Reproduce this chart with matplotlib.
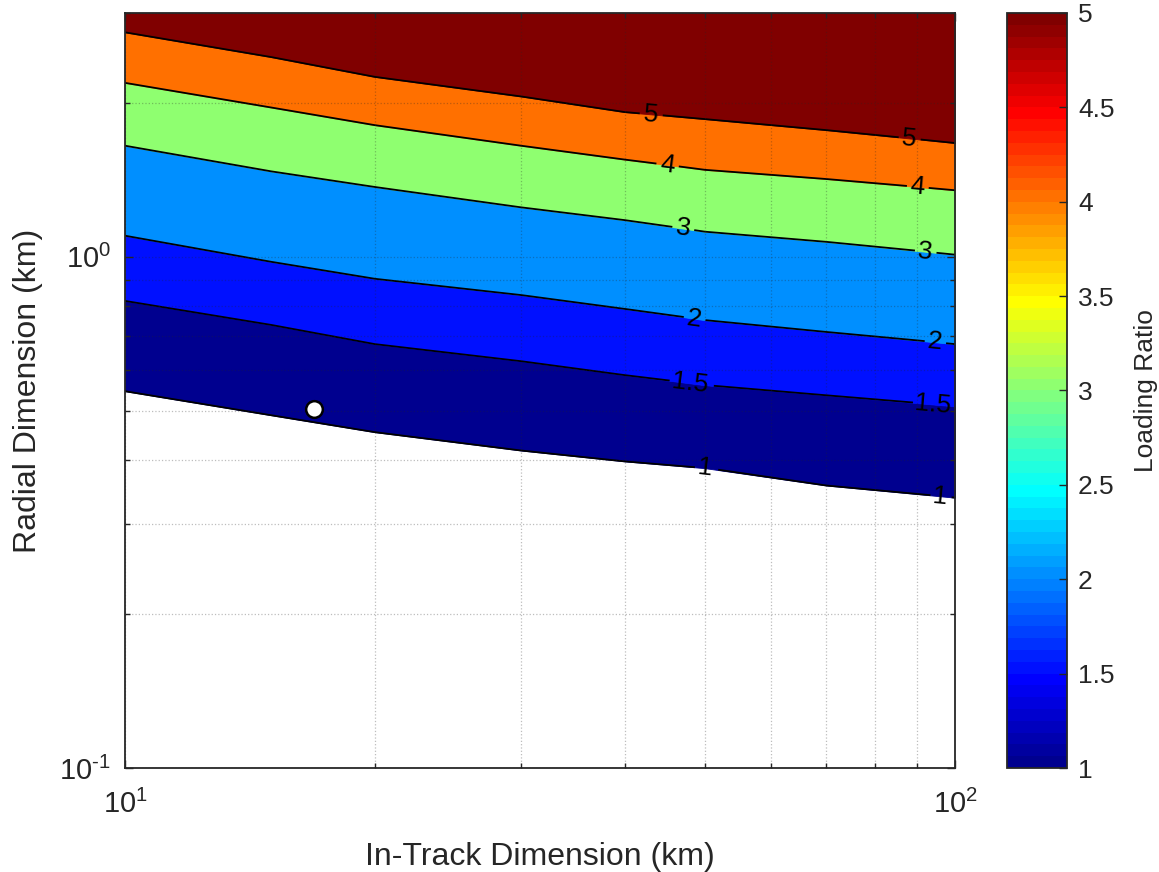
import numpy as np
import matplotlib
matplotlib.use('Agg')
import matplotlib.pyplot as plt
from matplotlib.colors import ListedColormap, Normalize
from matplotlib.contour import ContourSet
from matplotlib.ticker import NullFormatter, FuncFormatter
import matplotlib.cm as cm

plt.rcParams['font.family'] = ['Liberation Sans', 'DejaVu Sans']
plt.rcParams['mathtext.fontset'] = 'custom'
plt.rcParams['mathtext.rm'] = 'Liberation Sans'
plt.rcParams['mathtext.it'] = 'Liberation Sans:italic'
plt.rcParams['mathtext.bf'] = 'Liberation Sans:bold'
plt.rcParams['axes.unicode_minus'] = False

# in-track dimension (km) where the contour lines were read
x_km = [10, 15, 20, 30, 40, 50, 70, 100]
levels = [1, 1.5, 2, 3, 4, 5]
# radial dimension (km) of each loading ratio contour
r_lev1 = [0.546, 0.490, 0.454, 0.418, 0.398, 0.386, 0.357, 0.338]
r_lev15 = [0.820, 0.736, 0.675, 0.625, 0.587, 0.561, 0.536, 0.510]
r_lev2 = [1.10, 0.978, 0.906, 0.842, 0.791, 0.752, 0.713, 0.675]
r_lev3 = [1.65, 1.47, 1.37, 1.25, 1.18, 1.12, 1.07, 1.01]
r_lev4 = [2.19, 1.96, 1.81, 1.65, 1.55, 1.48, 1.42, 1.35]
r_lev5 = [2.75, 2.46, 2.25, 2.06, 1.92, 1.86, 1.77, 1.67]
# where the contour labels sit (in-track km)
label_lev = [5, 5, 4, 4, 3, 3, 2, 2, 1.5, 1.5, 1, 1]
label_x = [43, 88, 45, 90, 47, 92, 48.5, 94.5, 48, 94, 50, 96]
# design point
pt_x = [16.9]
pt_r = [0.505]

cbar_ticks = [1, 1.5, 2, 2.5, 3, 3.5, 4, 4.5, 5]
y_top = 3.0


def matlab_jet(m=64):
    n = int(np.ceil(m / 4))
    u = np.concatenate([np.arange(1, n + 1) / n, np.ones(n - 1), np.arange(n, 0, -1) / n])
    g = int(np.ceil(n / 2)) - (m % 4 == 1) + np.arange(1, len(u) + 1)
    r = g + n
    b = g - n
    J = np.zeros((m, 3))
    J[r[r <= m] - 1, 0] = u[r <= m]
    J[g[g <= m] - 1, 1] = u[g <= m]
    J[b[b >= 1] - 1, 2] = u[b >= 1]
    return ListedColormap(J)


jet = matlab_jet(64)
vmin, vmax = 1, 5


def level_color(v):
    idx = min(int((v - vmin) / (vmax - vmin) * 64), 63)
    return jet(idx)


def pow10_label(v, pos):
    e = int(round(np.log10(v)))
    if e < 0:
        return r'$\mathdefault{10^{\text{-}%d}}$' % (-e)
    return r'$\mathdefault{10^{%d}}$' % e


dark = '#262626'
fig = plt.figure(figsize=(11.59, 8.72), dpi=100)
ax = fig.add_axes([125 / 1159, (872 - 768) / 872, 830 / 1159, 755 / 872])
cax = fig.add_axes([1007 / 1159, (872 - 768) / 872, 60 / 1159, 755 / 872])

ax.set_xscale('log')
ax.set_yscale('log')
ax.set_xlim(10, 100)
ax.set_ylim(0.1, y_top)

lines = [r_lev1, r_lev15, r_lev2, r_lev3, r_lev4, r_lev5]
for k, lev in enumerate(levels):
    lower = lines[k]
    upper = lines[k + 1] if k + 1 < len(lines) else [y_top] * len(x_km)
    c = level_color(lev)
    ax.fill_between(x_km, lower, upper, facecolor=c, edgecolor=c, lw=0.6, zorder=1)

allsegs = [[np.column_stack([x_km, ln])] for ln in lines]
cs = ContourSet(ax, levels, allsegs, colors='k', linewidths=1.3)
cs.set_zorder(2)

ax.set_xlim(10, 100)
ax.set_ylim(0.1, y_top)

manual = []
for lev, lx in zip(label_lev, label_x):
    ln = lines[levels.index(lev)]
    ly = 10 ** np.interp(np.log10(lx), np.log10(x_km), np.log10(ln))
    manual.append((lx, ly))
ax.clabel(cs, manual=manual, inline=True, fmt='%g', fontsize=19, colors='k', inline_spacing=4)

ax.plot(pt_x, pt_r, 'o', ms=12, mfc='white', mec='black', mew=1.8, zorder=5)

ax.xaxis.set_major_formatter(FuncFormatter(pow10_label))
ax.yaxis.set_major_formatter(FuncFormatter(pow10_label))
ax.xaxis.set_minor_formatter(NullFormatter())
ax.yaxis.set_minor_formatter(NullFormatter())
ax.grid(True, which='both', linestyle=':', color=dark, alpha=0.3, lw=0.9)
ax.set_axisbelow(False)
ax.tick_params(which='both', direction='in', top=True, right=True, colors=dark, labelsize=21)
ax.tick_params(which='major', length=6, width=1.0)
ax.tick_params(which='minor', length=3.5, width=1.0)
ax.tick_params(axis='x', which='major', pad=16)
ax.tick_params(axis='y', which='major', pad=10)
for sp in ax.spines.values():
    sp.set_color(dark)
    sp.set_linewidth(1.3)

ax.set_xlabel('In-Track Dimension (km)', fontsize=23, color=dark, labelpad=16)
ax.set_ylabel('Radial Dimension (km)', fontsize=23, color=dark, labelpad=12)

sm = cm.ScalarMappable(norm=Normalize(vmin, vmax), cmap=jet)
cb = fig.colorbar(sm, cax=cax, ticks=cbar_ticks)
cb.ax.set_yticklabels(['%g' % t for t in cbar_ticks])
cb.ax.tick_params(direction='in', length=6, width=1.0, colors=dark, labelsize=19, pad=8)
cb.outline.set_edgecolor(dark)
cb.outline.set_linewidth(1.3)
cb.set_label('Loading Ratio', fontsize=19, color=dark, labelpad=14)

plt.savefig('out.png', dpi=100)
